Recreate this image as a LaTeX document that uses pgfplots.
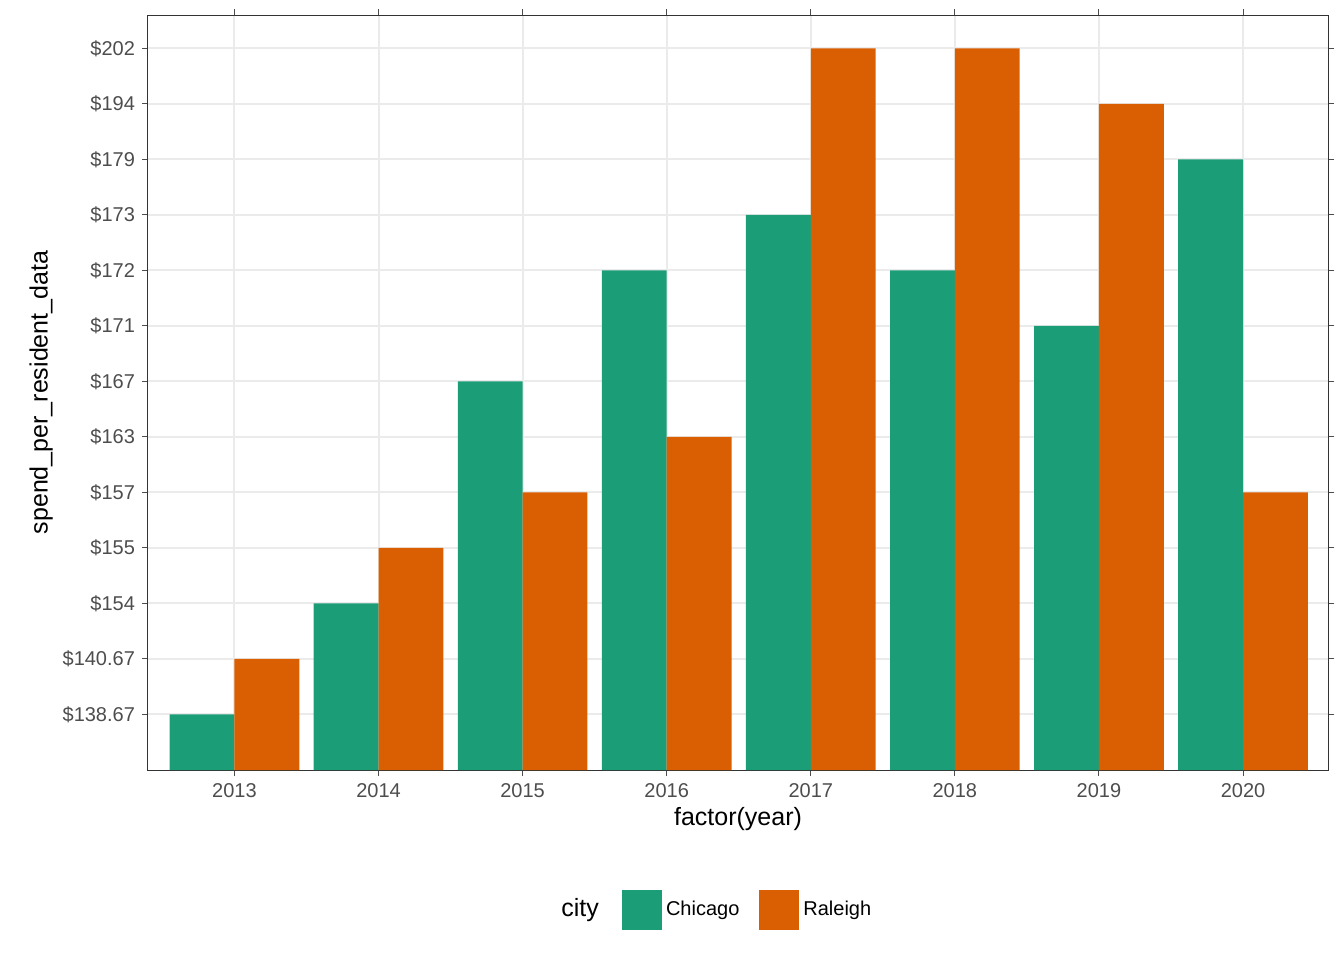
\documentclass[border=0pt]{standalone}
\usepackage{pgfplots}
\pgfplotsset{compat=1.18}
\usepackage{fontspec}
\setmainfont{Liberation Sans}
\definecolor{chi}{HTML}{1B9E77}
\definecolor{ral}{HTML}{D95F02}
\definecolor{gridc}{RGB}{235,235,235}
\definecolor{tickc}{RGB}{77,77,77}
\begin{document}
\begin{tikzpicture}
\useasboundingbox (-74pt,-95pt) rectangle (598pt,385pt);
\begin{axis}[
  at={(0,0)}, anchor=south west, scale only axis,
  width=590pt, height=377.5pt,
  xmin=-0.6, xmax=7.59, ymin=0, ymax=13.6,
  ybar, bar width=0.45, bar shift auto,
  xtick={0,...,7}, xticklabels={2013,2014,2015,2016,2017,2018,2019,2020},
  ytick={1,...,13},
  yticklabels={\$138.67,\$140.67,\$154,\$155,\$157,\$163,\$167,\$171,\$172,\$173,\$179,\$194,\$202},
  grid=major, grid style={gridc, line width=1pt},
  axis line style={black!80, line width=0.5pt},
  tick style={tickc, line width=0.5pt}, tick align=outside, major tick length=3pt,
  ticklabel style={font=\fontsize{10}{12}\selectfont, text=tickc},
  xlabel={factor(year)}, ylabel={spend\_per\_resident\_data},
  label style={font=\fontsize{12.5}{15}\selectfont},
  xlabel style={yshift=2pt}, ylabel style={yshift=-2pt},
  legend style={at={(0.509,-0.185)}, anchor=center, draw=none, legend columns=2,
    font=\fontsize{10}{12}\selectfont, /tikz/every even column/.append style={column sep=8pt}},
  legend image code/.code={\fill[#1] (0pt,-10pt) rectangle (20pt,10pt);},
  x=, 
]
\addplot[fill=chi, draw=none, bar width=0.45, bar shift=-0.225] coordinates {(0,1) (1,3) (2,7) (3,9) (4,10) (5,9) (6,8) (7,11)};
\addplot[fill=ral, draw=none, bar width=0.45, bar shift=0.225] coordinates {(0,2) (1,4) (2,5) (3,6) (4,13) (5,13) (6,12) (7,5)};
\legend{Chicago,Raleigh}
\end{axis}
\node[font=\fontsize{12.5}{15}\selectfont] at (216pt,-70pt) {city};
\end{tikzpicture}
\end{document}
